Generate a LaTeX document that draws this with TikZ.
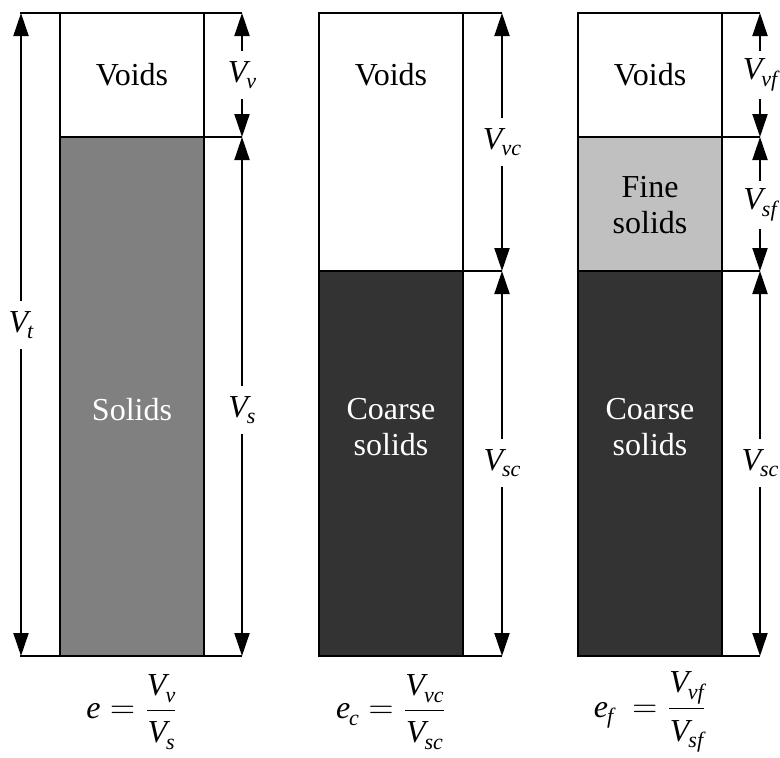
\documentclass[tikz,border=0pt]{standalone}
\usepackage{amsmath}
\usepackage{fontspec}
\setmainfont{Liberation Serif}
\usetikzlibrary{arrows.meta}
\definecolor{solidgray}{HTML}{808080}
\definecolor{coarsegray}{HTML}{333333}
\definecolor{finegray}{HTML}{C0C0C0}
% italic volume symbol with a lowered subscript, in the text font
\newcommand{\vol}[2]{\mbox{\itshape #1\kern-0.5pt\raisebox{-0.45ex}{\fontsize{11}{12}\selectfont #2}}}

\begin{document}
\begin{tikzpicture}[
    x=0.5pt, y=-0.5pt,
    every node/.style={font=\fontsize{16}{18}\selectfont},
    wall/.style={draw, line width=1pt},
    dim/.style={-{Triangle[length=11.5pt, width=7.5pt]}, line width=1pt},
    lbl/.style={inner sep=0pt, minimum height=24pt},
    phase/.style={align=center, text=#1},
    phase/.default=black,
]
\useasboundingbox (0,0) rectangle (780,757);

% Column 1: voids and solids
\fill[solidgray] (60,137) rectangle (204,656);
\draw[wall] (60,13) rectangle (204,656);
\draw[wall] (20,13) -- (242,13);
\draw[wall] (60,137) -- (242,137);
\draw[wall] (20,656) -- (242,656);
\coordinate (t1) at (242,13);
\coordinate (m1) at (242,137);
\coordinate (b1) at (242,656);
\coordinate (tt) at (21,13);
\coordinate (bt) at (21,656);
\node[phase] (void1) at (132,75) {Voids};
\node[phase=white] (sol1) at (132,410) {Solids};
\node[lbl] (vv) at (242,75) {\vol{V}{v}};
\node[lbl] (vs) at (242,410) {\vol{V}{s}};
\node[lbl] (vt) at (21,325) {\vol{V}{t}};
\draw[dim] (vv) -- (t1);
\draw[dim] (vv) -- (m1);
\draw[dim] (vs) -- (m1);
\draw[dim] (vs) -- (b1);
\draw[dim] (vt) -- (tt);
\draw[dim] (vt) -- (bt);

% Column 2: voids and coarse solids
\fill[coarsegray] (319,271) rectangle (463,656);
\draw[wall] (319,13) rectangle (463,656);
\draw[wall] (319,13) -- (502,13);
\draw[wall] (319,271) -- (502,271);
\draw[wall] (319,656) -- (502,656);
\coordinate (t2) at (502,13);
\coordinate (m2) at (502,271);
\coordinate (b2) at (502,656);
\node[phase] (void2) at (391,75) {Voids};
\node[phase=white] (sol2) at (391,427) {Coarse\\solids};
\node[lbl] (vvc) at (502,142) {\vol{V}{vc}};
\node[lbl] (vsc) at (502,463) {\vol{V}{sc}};
\draw[dim] (vvc) -- (t2);
\draw[dim] (vvc) -- (m2);
\draw[dim] (vsc) -- (m2);
\draw[dim] (vsc) -- (b2);

% Column 3: voids, fine and coarse solids
\fill[finegray] (578,137) rectangle (722,271);
\fill[coarsegray] (578,271) rectangle (722,656);
\draw[wall] (578,13) rectangle (722,656);
\draw[wall] (578,13) -- (760,13);
\draw[wall] (578,137) -- (760,137);
\draw[wall] (578,271) -- (760,271);
\draw[wall] (578,656) -- (760,656);
\coordinate (t3) at (760,13);
\coordinate (f3) at (760,137);
\coordinate (m3) at (760,271);
\coordinate (b3) at (760,656);
\node[phase] (void3) at (650,75) {Voids};
\node[phase] (fine3) at (650,205) {Fine\\solids};
\node[phase=white] (sol3) at (650,427) {Coarse\\solids};
\node[lbl] (vvf) at (760,75) {\vol{V}{vf}};
\node[lbl] (vsf) at (760,205) {\vol{V}{sf}};
\node[lbl] (vsc3) at (760,463) {\vol{V}{sc}};
\draw[dim] (vvf) -- (t3);
\draw[dim] (vvf) -- (f3);
\draw[dim] (vsf) -- (f3);
\draw[dim] (vsf) -- (m3);
\draw[dim] (vsc3) -- (m3);
\draw[dim] (vsc3) -- (b3);

% Void ratios
\node (eq1) at (132,712) {$\mbox{\itshape e}=\dfrac{\vol{V}{v}}{\vol{V}{s}}$};
\node (eq2) at (391,712) {$\vol{e}{c}=\dfrac{\vol{V}{vc}}{\vol{V}{sc}}$};
\node (eq3) at (650,712) {$\vol{e}{f}\;=\dfrac{\vol{V}{vf}}{\vol{V}{sf}}$};

\end{tikzpicture}
\end{document}
